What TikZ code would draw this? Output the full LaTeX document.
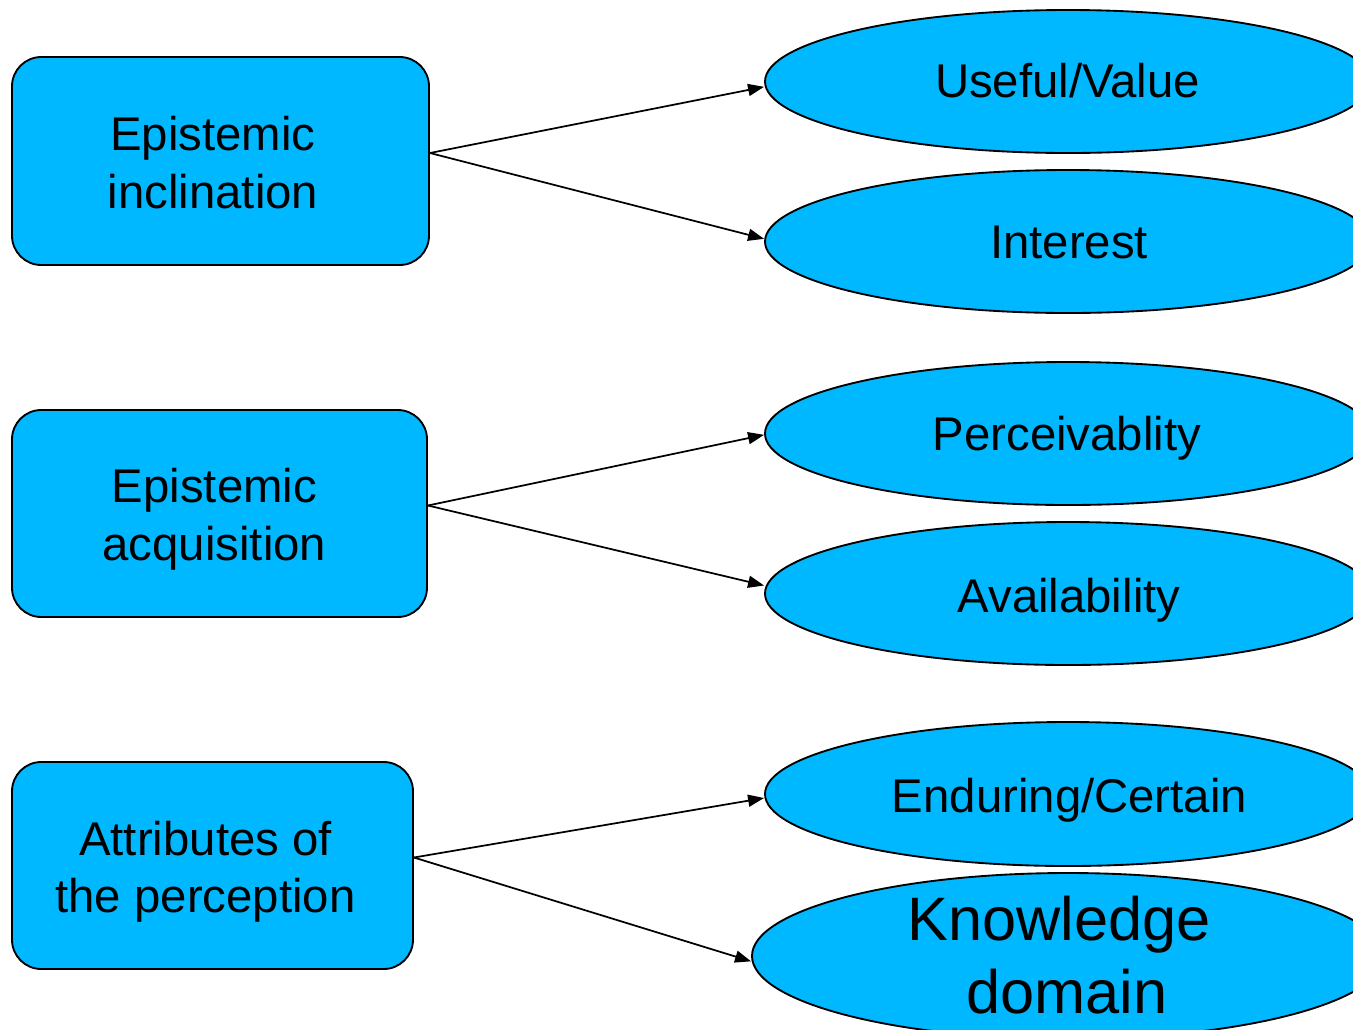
\documentclass[tikz,border=0pt]{standalone}
\usepackage{fontspec}
\setmainfont{Liberation Sans}
\usetikzlibrary{shapes.geometric,arrows.meta}
\definecolor{fillblue}{RGB}{0,184,255}
\begin{document}
\begin{tikzpicture}[x=0.75pt,y=-0.75pt,
  box/.style={draw=black,line width=1.4pt,fill=fillblue,rounded corners=22pt,inner sep=0pt},
  oval/.style={draw=black,line width=1.4pt,fill=fillblue,ellipse,inner sep=0pt},
  lbl/.style={anchor=base,inner sep=0pt,font=\fontsize{35.5}{42.75}\selectfont},
  biglbl/.style={anchor=base,inner sep=0pt,font=\fontsize{46}{55}\selectfont},
  conn/.style={line width=1.3pt,-{Triangle[length=12pt,width=9pt]}}]
\useasboundingbox (0,0) rectangle (1353,1029);
\clip (0,0) rectangle (1353,1029);
\fill[white] (0,0) rectangle (1353,1029);
% boxes
\node[box,minimum width=417*0.75pt,minimum height=208*0.75pt] (b1) at (220.5,161) {};
\node[box,minimum width=415*0.75pt,minimum height=207*0.75pt] (b2) at (219.5,513.5) {};
\node[box,minimum width=401*0.75pt,minimum height=207*0.75pt] (b3) at (212.5,865.5) {};
% box texts
\node[lbl] (b1a) at (213,150) {Epistemic};
\node[lbl] (b1b) at (213,208) {inclination};
\node[lbl] (b2a) at (214.5,502) {Epistemic};
\node[lbl] (b2b) at (214.5,560) {acquisition};
\node[lbl] (b3a) at (205.5,855) {Attributes of};
\node[lbl] (b3b) at (205.5,912) {the perception};
% ellipses
\node[oval,minimum width=606*0.75pt,minimum height=143*0.75pt] (e1) at (1068,81.5) {};
\node[oval,minimum width=606*0.75pt,minimum height=143*0.75pt] (e2) at (1068,241.5) {};
\node[oval,minimum width=606*0.75pt,minimum height=143*0.75pt] (e3) at (1068,433.5) {};
\node[oval,minimum width=606*0.75pt,minimum height=143*0.75pt] (e4) at (1068,593.5) {};
\node[oval,minimum width=606*0.75pt,minimum height=144*0.75pt] (e5) at (1068,794) {};
\node[oval,minimum width=632*0.75pt,minimum height=166*0.75pt] (e6) at (1068,956) {};
% labels
\node[lbl] (t1) at (1067.5,97) {Useful/Value};
\node[lbl] (t2) at (1069,258) {Interest};
\node[lbl] (t3) at (1067,450) {Perceivablity};
\node[lbl] (t4) at (1069,612) {Availability};
\node[lbl] (t5) at (1069.5,812) {Enduring/Certain};
\node[biglbl] (t6a) at (1059,940) {Knowledge};
\node[biglbl] (t6b) at (1067,1013) {domain};
% connectors
\draw[conn] ([yshift=6pt]b1.east) -- ([yshift=-4pt]e1.west);
\draw[conn] ([yshift=6pt]b1.east) -- ([yshift=2pt]e2.west);
\draw[conn] ([yshift=6pt]b2.east) -- ([yshift=-1pt]e3.west);
\draw[conn] ([yshift=6pt]b2.east) -- ([yshift=6pt]e4.west);
\draw[conn] ([yshift=6pt]b3.east) -- ([yshift=-3pt]e5.west);
\draw[conn] ([yshift=6pt]b3.east) -- ([yshift=-4pt]e6.west);
\end{tikzpicture}
\end{document}
